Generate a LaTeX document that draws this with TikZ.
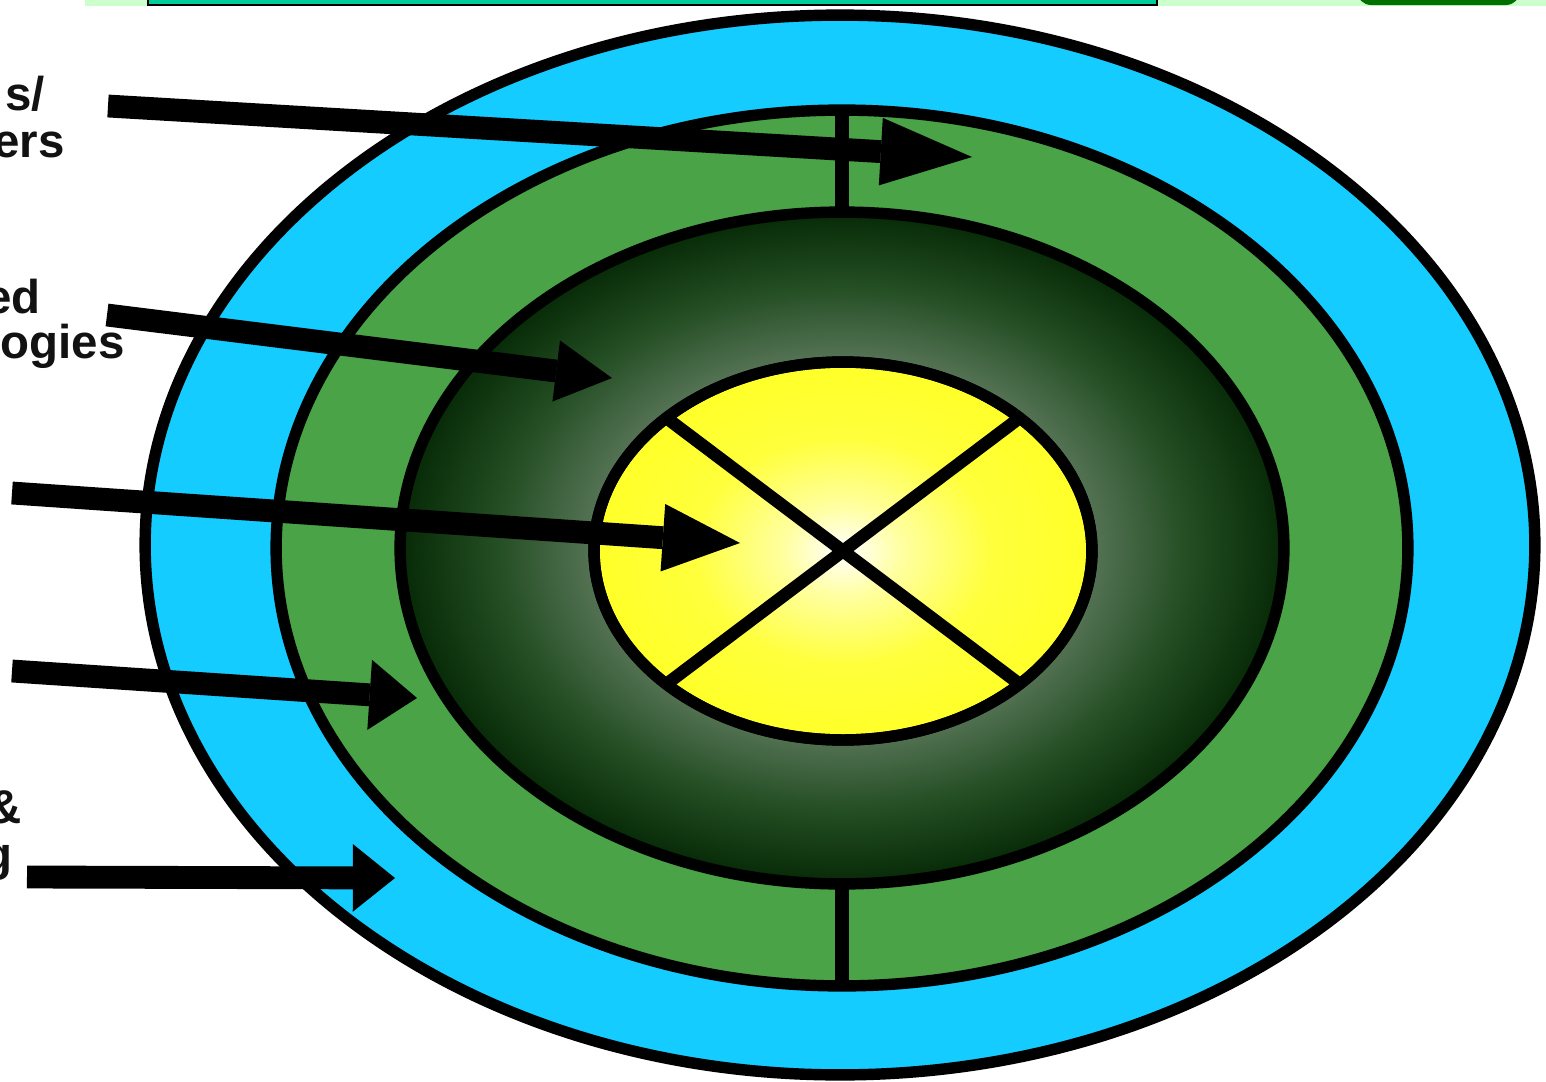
\documentclass[tikz,border=0pt]{standalone}
\usepackage{fontspec}
\setmainfont{Liberation Sans}
\usetikzlibrary{shapes.geometric,arrows.meta}
\definecolor{skyb}{RGB}{20,204,255}
\definecolor{ringg}{RGB}{74,163,70}
\definecolor{dg0}{RGB}{98,126,98}
\definecolor{dg1}{RGB}{86,116,86}
\definecolor{dg2}{RGB}{36,78,36}
\definecolor{dg3}{RGB}{6,42,6}
\definecolor{yl0}{RGB}{255,255,255}
\definecolor{yl1}{RGB}{255,255,160}
\definecolor{yl2}{RGB}{255,255,60}
\definecolor{yl3}{RGB}{255,255,40}
\definecolor{lightbar}{RGB}{204,255,204}
\definecolor{tealbar}{RGB}{0,204,153}
\definecolor{darkbar}{RGB}{0,112,0}
\pgfdeclareradialshading{darkring}{\pgfpoint{0bp}{0bp}}{color(0bp)=(dg0); color(14bp)=(dg1); color(19.5bp)=(dg2); color(25bp)=(dg3); color(50bp)=(dg3)}
\pgfdeclareradialshading{yolk}{\pgfpoint{0bp}{0bp}}{color(0bp)=(yl0); color(6bp)=(yl1); color(15bp)=(yl2); color(25bp)=(yl3); color(50bp)=(yl3)}
\begin{document}
\begin{tikzpicture}[x=0.02cm,y=-0.02cm,
  band/.style={ellipse, draw=black, line width=6.5pt, inner sep=0pt, outer sep=0pt},
  arr/.style={line width=13pt, black},
  lbl/.style={font=\fontsize{27}{29}\selectfont\bfseries, inner sep=0pt, anchor=base east, text=black!93},
  divider/.style={line width=7.5pt, black}]
\clip (0,0) rectangle (1546,1082);
\fill[white] (0,0) rectangle (1546,1082);
% top bar
\fill[lightbar] (85,-10) rectangle (1546,6);
\draw[line width=1.2pt, fill=tealbar] (148,-10) rectangle (1157,5);
\fill[darkbar, rounded corners=8pt] (1357,-30) rectangle (1520,5);
% rings
\node[band, fill=skyb, minimum width=27.8cm, minimum height=21.2cm] (outer) at (840,545) {};
\node[band, fill=ringg, minimum width=22.64cm, minimum height=17.52cm] (ring) at (842,548) {};
\node[band, shading=darkring, minimum width=17.68cm, minimum height=13.44cm] (dark) at (842,548) {};
\node[band, shading=yolk, minimum width=9.96cm, minimum height=7.56cm] (yolk) at (843,551) {};
% dividers
\draw[divider] (ring.north) -- (dark.north);
\draw[divider] (dark.south) -- (ring.south);
\draw[line width=7.2pt] (yolk.143) -- (yolk.323);
\draw[line width=7.2pt] (yolk.37) -- (yolk.217);
\node[band, minimum width=9.96cm, minimum height=7.56cm] (yolkrim) at (843,551) {};
% arrows
\coordinate (s1) at (108,106);  \coordinate (t1) at (972,157);
\coordinate (s2) at (107,315);  \coordinate (t2) at (612,378);
\coordinate (s3) at (12,493);   \coordinate (t3) at (740,543);
\coordinate (s4) at (12,671);   \coordinate (t4) at (417,698);
\coordinate (s5) at (27,877);   \coordinate (t5) at (395,878);
\draw[arr, -{Triangle[length=52pt,width=38.5pt,line width=0pt]}] (s1) -- (t1);
\draw[arr, -{Triangle[length=32pt,width=35pt,line width=0pt]}] (s2) -- (t2);
\draw[arr, -{Triangle[length=44pt,width=38.5pt,line width=0pt]}] (s3) -- (t3);
\draw[arr, -{Triangle[length=27pt,width=40pt,line width=0pt]}] (s4) -- (t4);
\draw[arr, -{Triangle[length=24pt,width=38.5pt,line width=0pt]}] (s5) -- (t5);
% labels
\node[lbl] (l1a) at (45,110) {s/};
\node[lbl] (l1b) at (65,157) {ers};
\node[lbl] (l2a) at (41,313) {ed};
\node[lbl] (l2b) at (125,358) {ogies};
\node[lbl] (l5a) at (22,823) {\&};
\node[lbl] (l5b) at (13,870) {g};
\end{tikzpicture}
\end{document}
